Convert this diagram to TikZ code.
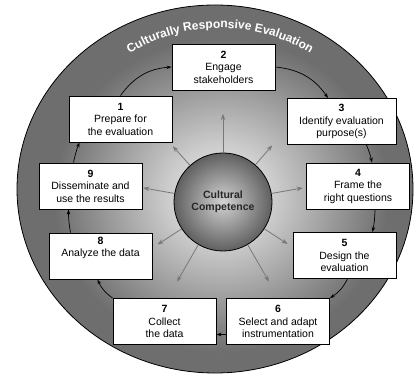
\documentclass[tikz,border=0pt]{standalone}
\usepackage{fontspec}
\setmainfont{Liberation Sans}
\usetikzlibrary{arrows.meta,decorations.text}

\definecolor{ringgray}{gray}{0.43}
\definecolor{spokegray}{gray}{0.47}
\definecolor{glowcore}{gray}{0.93}
\definecolor{glowmid}{gray}{0.8}
\pgfdeclareradialshading{innerglow}{\pgfpoint{0bp}{0bp}}{color(0bp)=(glowcore); color(8bp)=(glowmid); color(25bp)=(ringgray); color(50bp)=(ringgray)}

\tikzset{
    stage/.style={draw, fill=white, line width=0.9pt, minimum width=103pt, minimum height=46pt,
        align=center, inner sep=1pt, font=\fontsize{10.5}{12.5}\selectfont},
    stagearrow/.style={-{Stealth[length=5pt,width=3.5pt]}, line width=0.7pt},
    ccarrow/.style={spokegray, -{Stealth[length=6pt,width=4.5pt]}, line width=0.8pt}
}

\begin{document}
\begin{tikzpicture}[x=1pt, y=1pt]
    \useasboundingbox (0,0) rectangle (415,375);
    \fill[white] (0,0) rectangle (415,375);
    \draw[fill=ringgray, line width=0.8pt] (215,186) ellipse [x radius=198pt, y radius=184pt];
    \shade[shading=innerglow] (221,180) ellipse [x radius=168pt, y radius=158pt];
    \path[decorate, decoration={text along path, text align=center,
        text={|\color{white}\bfseries\fontsize{12}{14}\selectfont|Culturally Responsive Evaluation}}]
        (220,175) ++(130:172pt) arc[start angle=130, end angle=50, radius=172pt];

    % the nine steps
    \node[stage] (b1) at (120.5,256) {\textbf{1}\\Prepare for\\the evaluation};
    \node[stage] (b2) at (223.5,308) {\textbf{2}\\Engage\\stakeholders};
    \node[stage, minimum width=109pt] (b3) at (341.5,253.5) {\textbf{3}\\Identify evaluation\\purpose(s)};
    \node[stage] (b4) at (358,189) {\textbf{4}\\Frame the\\right questions};
    \node[stage] (b5) at (344.5,119.5) {\textbf{5}\\Design the\\evaluation};
    \node[stage] (b6) at (278,53.5) {\textbf{6}\\Select and adapt\\instrumentation};
    \node[stage] (b7) at (164.5,53.5) {\textbf{7}\\Collect\\the data};
    \node[stage] (b8) at (100.5,119) {\textbf{8}\\Analyze the data\\[6pt]};
    \node[stage] (b9) at (90.5,189) {\textbf{9}\\Disseminate and\\use the results};

    \node[circle, draw, line width=0.8pt, minimum size=98pt, shade, inner color=gray!35,
        outer color=gray!75!black, align=center, text=black!85,
        font=\bfseries\fontsize{10.5}{12.5}\selectfont] (cc) at (223,173) {Cultural\\Competence};

    \foreach \ang/\len [count=\i] in {90/88, 49/75, 10/81, -33/77, -60/92, 240/92, 213/78, 170/81, 132/75} {
        \path (cc.center) ++(\ang:\len pt) coordinate (tip\i);
        \draw[ccarrow] (cc.\ang) -- (tip\i);
    }

    \draw[stagearrow] (b1.north) to[bend left=25] (b2.west);
    \draw[stagearrow] (b2.east) to[bend left=25] ([xshift=-13.5pt]b3.north);
    \draw[stagearrow] ([xshift=25pt]b3.south) to[bend left=5] ([xshift=14pt]b4.north);
    \draw[stagearrow] ([xshift=17pt]b4.south) to[bend left=5] ([xshift=28pt]b5.north);
    \draw[stagearrow] ([xshift=3pt]b5.south) to[bend left=15] (b6.north east);
    \draw[stagearrow] ([yshift=-13pt]b6.west) -- ([yshift=-13pt]b7.east);
    \draw[stagearrow] (b7.north west) to[bend left=15] ([xshift=-3pt]b8.south);
    \draw[stagearrow] ([xshift=-30pt]b8.north) to[bend left=5] ([xshift=-22pt]b9.south);
    \draw[stagearrow] ([xshift=-17pt]b9.north) to[bend left=5] ([xshift=-41pt]b1.south);
\end{tikzpicture}
\end{document}
